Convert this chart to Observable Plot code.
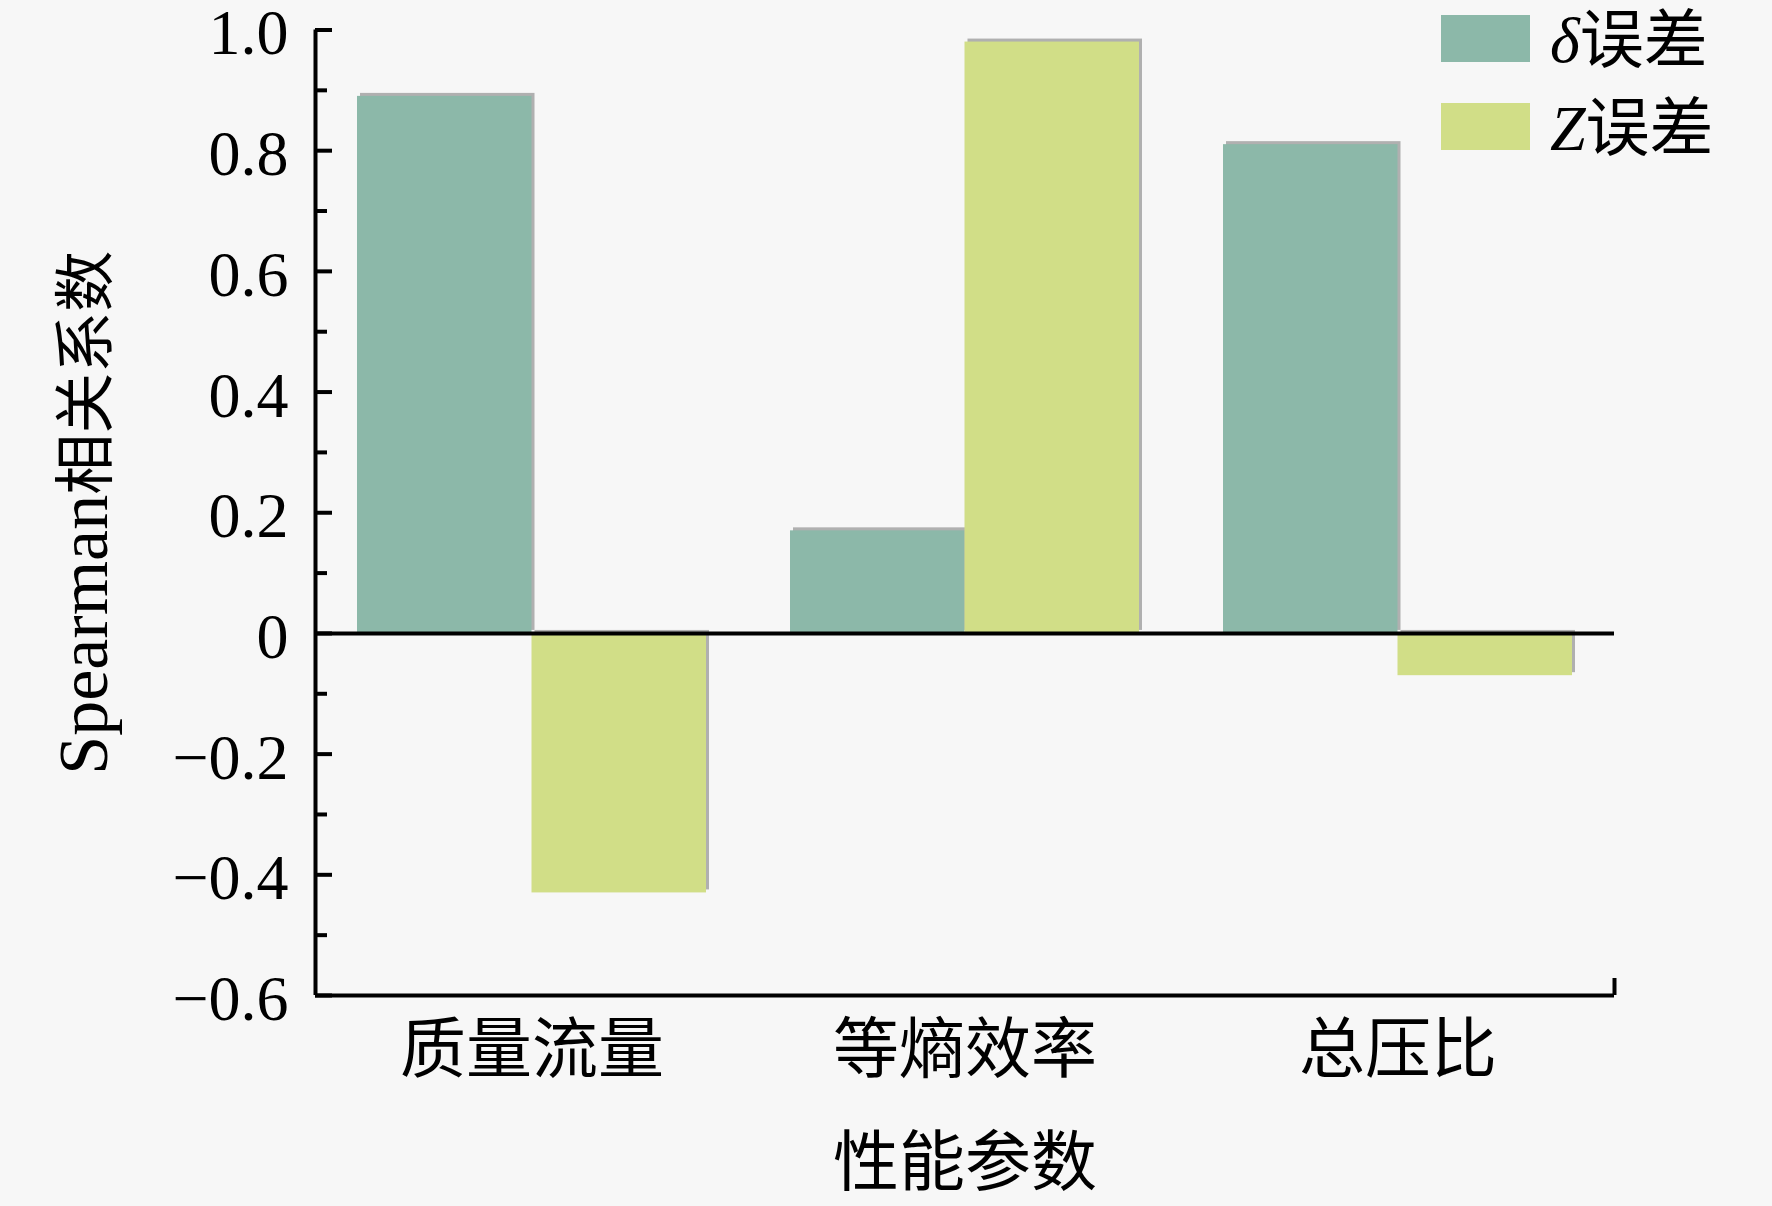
<!DOCTYPE html>
<html><head><meta charset="utf-8">
<script src="https://cdn.jsdelivr.net/npm/d3@7"></script>
<script src="https://cdn.jsdelivr.net/npm/@observablehq/plot@0.6"></script>
<style>
html,body{margin:0;padding:0;background:#f7f7f7;}
#wrap{position:relative;width:1772px;height:1206px;}
.sw{position:absolute;}
.lt{position:absolute;font-family:"Liberation Serif","Noto Sans CJK SC",serif;font-size:64px;color:#000;line-height:1;white-space:nowrap;}
.lt i{font-style:italic;}
</style></head><body><div id="wrap"></div>
<script>
const FONT = '"Liberation Serif", "Noto Sans CJK SC", serif';
const categories = ["质量流量", "等熵效率", "总压比"];
const seriesNames = ["δ误差", "Z误差"];
const deltaValues = [0.89, 0.17, 0.81];
const zValues = [-0.43, 0.98, -0.07];
const seriesColors = ["#8cb8a9", "#d1de87"];
const yMajorTicks = [-0.6, -0.4, -0.2, 0, 0.2, 0.4, 0.6, 0.8, 1.0];
const yMinorTicks = [-0.5, -0.3, -0.1, 0.1, 0.3, 0.5, 0.7, 0.9];
const yTickLabels = ["−0.6", "−0.4", "−0.2", "0", "0.2", "0.4", "0.6", "0.8", "1.0"];
const xTickPositions = [0.5, 1.5, 2.5];
const yTitle = "Spearman相关系数";
const xTitle = "性能参数";
const barWidth = 0.403; // fraction of a category slot per bar

const rows = [];
categories.forEach((c, i) => {
  rows.push({category: c, idx: i, series: seriesNames[0], value: deltaValues[i]});
  rows.push({category: c, idx: i, series: seriesNames[1], value: zValues[i]});
});
const barX1 = d => d.idx + 0.5 - (d.series === seriesNames[0] ? barWidth : 0);
const barX2 = d => d.idx + 0.5 + (d.series === seriesNames[1] ? barWidth : 0);

const plot = Plot.plot({
  width: 1772,
  height: 1206,
  marginLeft: 315,
  marginRight: 158,
  marginTop: 29.5,
  marginBottom: 211,
  style: {background: "transparent", fontFamily: FONT, color: "#000", overflow: "visible"},
  x: {domain: [0, 3]},
  y: {domain: [-0.6, 1.0]},
  color: {domain: seriesNames, range: seriesColors},
  marks: [
    // soft gray edge (shadow) behind bars
    Plot.rectY(rows, {x1: barX1, x2: barX2, y1: 0, y2: "value", fill: "#b0b0b0", dx: 3, dy: -3}),
    Plot.rectY(rows, {x1: barX1, x2: barX2, y1: 0, y2: "value", fill: "series"}),
    Plot.axisY(yMajorTicks, {tickSize: 0, tickPadding: 27, tickFormat: d => yTickLabels[yMajorTicks.indexOf(d)], fontSize: 64, dy: 4, label: null}),
    Plot.axisY(yMajorTicks, {tickSize: -17, strokeWidth: 4, tickFormat: () => "", label: null}),
    Plot.axisY(yMinorTicks, {tickSize: -12, strokeWidth: 4, tickFormat: () => "", label: null}),
    Plot.axisX(xTickPositions, {tickSize: 0, tickPadding: 30, tickFormat: d => categories[Math.floor(d)], fontSize: 66, label: null}),
    Plot.axisX([3], {tickSize: -17, strokeWidth: 4, tickFormat: () => "", label: null}),
    Plot.ruleX([0], {stroke: "#000", strokeWidth: 4}),
    Plot.ruleY([-0.6], {stroke: "#000", strokeWidth: 4}),
    Plot.ruleY([0], {stroke: "#000", strokeWidth: 4}),
    Plot.text([yTitle], {frameAnchor: "left", textAnchor: "middle", lineAnchor: "middle", dx: -228, rotate: -90, fontSize: 62}),
    Plot.text([xTitle], {frameAnchor: "bottom", textAnchor: "middle", lineAnchor: "middle", dy: 168, fontSize: 66})
  ]
});

const wrap = document.getElementById("wrap");
wrap.appendChild(plot);

// split y title into Latin (wider) + CJK parts
d3.select(plot).selectAll("text").filter(function() { return this.textContent === yTitle; })
  .each(function() {
    const t = d3.select(this);
    t.text(null);
    t.append("tspan").attr("font-size", 70).text("Spearman");
    t.append("tspan").attr("font-size", 61).text("相关系数");
  });

// legend (top right, inside the plot area)
const legendItems = [
  {sym: "δ", rest: "误差", color: seriesColors[0], top: 15},
  {sym: "Z", rest: "误差", color: seriesColors[1], top: 103}
];
legendItems.forEach(it => {
  const sw = document.createElement("div");
  sw.className = "sw";
  Object.assign(sw.style, {left: "1441px", top: it.top + "px", width: "89px", height: "47px", background: it.color});
  wrap.appendChild(sw);
  const tx = document.createElement("div");
  tx.className = "lt";
  Object.assign(tx.style, {left: "1550px", top: (it.top - 6) + "px"});
  tx.innerHTML = "<i>" + it.sym + "</i>" + it.rest;
  wrap.appendChild(tx);
});
</script></body></html>
